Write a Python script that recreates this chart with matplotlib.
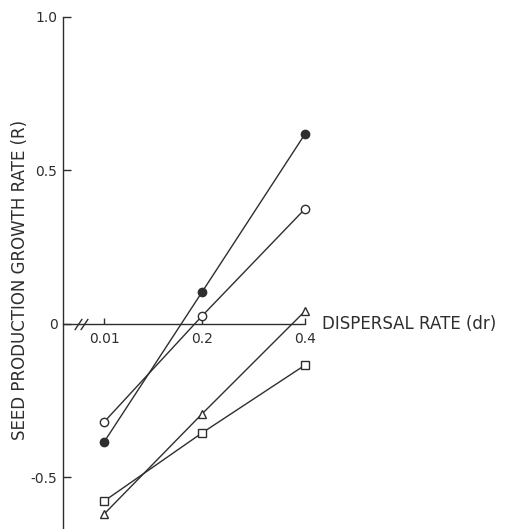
import numpy as np
import matplotlib.pyplot as plt

# dispersal rates and growth rates
dispersal = [0.01, 0.2, 0.4]
r_filled_circle = [-0.384, 0.104, 0.619]
r_open_circle = [-0.319, 0.026, 0.375]
r_triangle = [-0.619, -0.293, 0.042]
r_square = [-0.577, -0.355, -0.134]

x_ticks = [0.01, 0.2, 0.4]
x_tick_labels = ["0.01", "0.2", "0.4"]
y_ticks = [-0.5, 0, 0.5, 1.0]
y_tick_labels = ["-0.5", "0", "0.5", "1.0"]

ink = "#2e2e2e"

fig = plt.figure(figsize=(5.10, 5.29), dpi=100)
ax = fig.add_axes([63 / 510, 0.0, 447 / 510, 512 / 529])

xmin, xmax = -0.07, 0.798
ymin, ymax = -0.668, 1.0
ax.set_xlim(xmin, xmax)
ax.set_ylim(ymin, ymax)

series = [
    (r_filled_circle, dict(marker="o", mfc=ink, mec=ink)),
    (r_open_circle, dict(marker="o", mfc="white", mec=ink)),
    (r_triangle, dict(marker="^", mfc="white", mec=ink)),
    (r_square, dict(marker="s", mfc="white", mec=ink)),
]
for vals, style in series:
    ax.plot(dispersal, vals, color=ink, lw=1.0, ms=6, mew=1.0,
            zorder=3, **style)

# spines
ax.spines["top"].set_visible(False)
ax.spines["right"].set_visible(False)
ax.spines["left"].set_color(ink)
ax.spines["left"].set_linewidth(1.0)
ax.spines["left"].set_bounds(ymin, 1.0)
ax.spines["bottom"].set_position(("data", 0))
ax.spines["bottom"].set_bounds(xmin, 0.4)
ax.spines["bottom"].set_color(ink)
ax.spines["bottom"].set_linewidth(1.0)

ax.set_yticks(y_ticks)
ax.set_yticklabels(y_tick_labels)
ax.set_xticks(x_ticks)
ax.set_xticklabels(x_tick_labels)
ax.tick_params(axis="y", direction="in", length=6, width=1.0, color=ink,
               labelsize=10, labelcolor=ink, pad=4)
ax.tick_params(axis="x", direction="in", length=4, width=1.0, color=ink,
               labelsize=10, labelcolor=ink, pad=6)
ax.get_xticklabels()[0].set_x(0.004)

# axis break marks on the x axis
for bx in (-0.04, -0.03):
    ax.plot([bx], [0], marker=[(-1, -1.5), (1, 1.5)], ms=8, mew=1.0,
            color=ink, clip_on=False, zorder=4)

ax.text(0.432, 0, "DISPERSAL RATE (dr)", fontsize=12, color=ink,
        ha="left", va="center")
fig.text(20 / 510, 1 - 280 / 529, "SEED PRODUCTION GROWTH RATE (R)",
         rotation=90, fontsize=12, color=ink, ha="center", va="center")

fig.savefig("out.png", dpi=100)
